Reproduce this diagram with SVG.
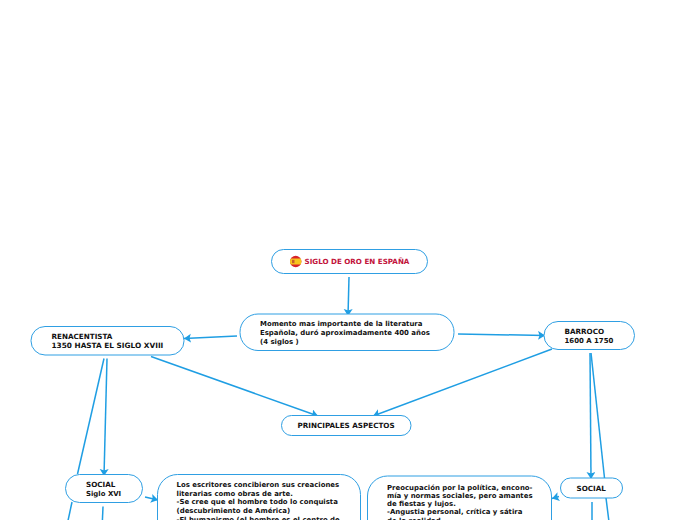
<svg xmlns="http://www.w3.org/2000/svg" width="696" height="520" viewBox="0 0 696 520">
<defs>
<marker id="a" markerUnits="userSpaceOnUse" markerWidth="10" markerHeight="10" refX="7" refY="4.500" orient="auto"><path d="M0 0L7 4.500L0 9L1.500 4.500Z" fill="#1f9ee3"/></marker>
<clipPath id="flagc"><circle cx="295.700" cy="261.500" r="5.700"/></clipPath>
</defs>
<style>
text{font-family:"DejaVu Sans",Verdana,sans-serif;font-size:6.950px;font-weight:700;fill:#111}
.u{font-size:7.200px}
.n{fill:#fff;stroke:#2f9fe3;stroke-width:1}
.c{fill:none;stroke:#1f9ee3;stroke-width:1.500}
.e{marker-end:url(#a)}
</style>
<rect width="696" height="520" fill="#fff"/>
<g id="connectors">
<path class="c e" d="M349 277L348 316"/>
<path class="c e" d="M237 336L184 338.500"/>
<path class="c e" d="M458 334L545 335.500"/>
<path class="c e" d="M151 356.500L318 416"/>
<path class="c e" d="M552 349L373 416"/>
<path class="c e" d="M107 358.500L104 476"/>
<path class="c" d="M104 358.500L77.500 474"/>
<path class="c" d="M72 502L66 530"/>
<path class="c" d="M103 506.500L102 530"/>
<path class="c e" d="M145 497L158 500"/>
<path class="c e" d="M590 353L591 479"/>
<path class="c" d="M591 353L604.500 478"/>
<path class="c" d="M592 502L592 530"/>
<path class="c" d="M606 498L610 530"/>
<path class="c e" d="M559 496.500L552 498.500"/>
</g>
<g id="n-title">
<rect class="n" x="271.500" y="249.500" width="156" height="24" rx="12"/>
<g clip-path="url(#flagc)"><rect x="289" y="255" width="14" height="13" fill="#d8232a"/><rect x="289" y="258.500" width="14" height="6" fill="#f7c51e"/><rect x="292" y="259.800" width="2.500" height="3.400" fill="#c8602a"/></g>
<text class="u" x="304.500" y="264" style="fill:#c2133b;font-size:7.150px">SIGLO DE ORO EN ESPAÑA</text>
</g>
<g id="n-momento">
<rect class="n" x="240" y="314" width="214" height="36.500" rx="18"/>
<text x="260" y="326">Momento mas importante de la literatura</text>
<text x="260" y="335">Española, duró aproximadamente 400 años</text>
<text x="260" y="343.500">(4 siglos )</text>
</g>
<g id="n-renacentista">
<rect class="n" x="31" y="326.500" width="153" height="28.500" rx="14"/>
<text class="u" x="51.500" y="339">RENACENTISTA</text>
<text class="u" x="51.500" y="348" style="font-size:7.350px">1350 HASTA EL SIGLO XVIII</text>
</g>
<g id="n-barroco">
<rect class="n" x="544" y="321.500" width="90.500" height="28" rx="14"/>
<text class="u" x="564.500" y="334">BARROCO</text>
<text x="564.500" y="342.500">1600 A 1750</text>
</g>
<g id="n-aspectos">
<rect class="n" x="281.500" y="415.500" width="129.500" height="20" rx="10"/>
<text class="u" x="297.500" y="428">PRINCIPALES ASPECTOS</text>
</g>
<g id="n-social1">
<rect class="n" x="65.500" y="474.500" width="77" height="28" rx="14"/>
<text class="u" x="86" y="487">SOCIAL</text>
<text x="86" y="496">Siglo XVI</text>
</g>
<g id="n-texto1">
<rect class="n" x="157.500" y="474.500" width="203" height="80" rx="20"/>
<text x="176.500" y="487">Los escritores concibieron sus creaciones</text>
<text x="176.500" y="496">literarias como obras de arte.</text>
<text x="176.500" y="504">-Se cree que el hombre todo lo conquista</text>
<text x="176.500" y="513">(descubrimiento de América)</text>
<text x="176.500" y="521.500">-El humanismo (el hombre es el centro de</text>
</g>
<g id="n-texto2">
<rect class="n" x="367.500" y="476" width="184" height="80" rx="20"/>
<text x="387" y="489.500">Preocupación por la política, encono-</text>
<text x="387" y="497.500">mía y normas sociales, pero amantes</text>
<text x="387" y="506">de fiestas y lujos.</text>
<text x="387" y="514">-Angustia personal, crítica y sátira</text>
<text x="387" y="522.500">de la realidad</text>
</g>
<g id="n-social2">
<rect class="n" x="560.500" y="478" width="62" height="20" rx="10"/>
<text class="u" x="576.500" y="491">SOCIAL</text>
</g>
</svg>
